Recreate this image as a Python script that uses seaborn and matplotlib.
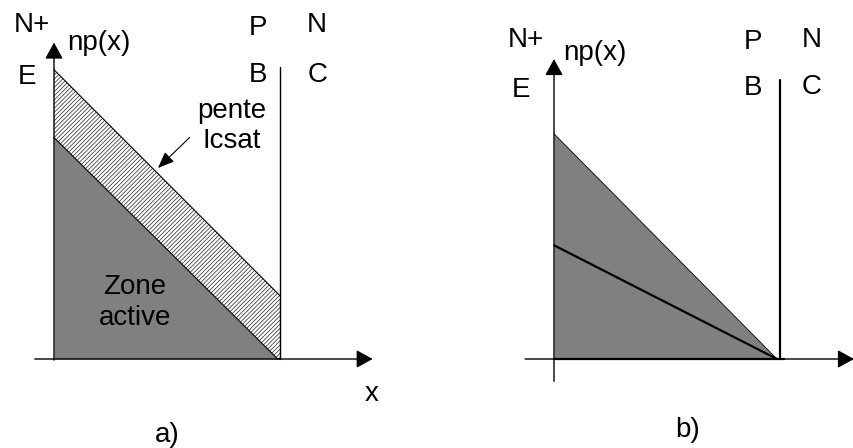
import numpy as np
import pandas as pd
import seaborn as sns
import matplotlib.pyplot as plt

#%% data (x in units of base width, y in same units)

# panel a
xa = [0.0, 0.99, 1.0]
lower_a = [0.98, 0.0, 0.0]      # edge of active zone
upper_a = [1.28, 0.29, 0.28]    # slope Icsat
junction_a = 1.0
junction_top_a = 1.29

# panel b
xb = [0.0, 1.0]
tri_b = [1.01, 0.0]
inner_b = [0.51, 0.0]
junction_b = 1.013
junction_top_b = 1.25

#%% style
sns.set_style("white")
plt.rcParams['font.family'] = ['Liberation Sans', 'DejaVu Sans']
plt.rcParams['text.color'] = 'black'
plt.rcParams['hatch.linewidth'] = 0.5
GRAY = '#808080'
FS = 20

fig = plt.figure(figsize=(8.54, 4.48), dpi=100)
W, H = 854, 448


def make_ax(px0, px1, ox, oy, s):
    # axes covering pixel columns px0..px1, origin at (ox, oy) pixels, s px per unit
    ax = fig.add_axes([px0 / W, 0, (px1 - px0) / W, 1])
    ax.set_xlim((px0 - ox) / s, (px1 - ox) / s)
    ax.set_ylim((oy - H) / s, oy / s)
    ax.axis('off')
    return ax


def arrow(ax, x0, y0, x1, y1, lw=1.0, style='-|>,head_length=1.0,head_width=0.55'):
    ax.annotate('', xy=(x1, y1), xytext=(x0, y0),
                arrowprops=dict(arrowstyle=style, lw=lw, color='black',
                                shrinkA=0, shrinkB=0), annotation_clip=False)


#%% panel a
ax = make_ax(0, 427, 54, 359, 226)
ax.fill_between(xa, 0, lower_a, color=GRAY, lw=0)
ax.fill_between(xa, lower_a, upper_a, facecolor='white', edgecolor='#222222',
                hatch='////////', lw=0)
df_a = pd.DataFrame({'x': xa, 'lower': lower_a, 'upper': upper_a})
sns.lineplot(data=df_a, x='x', y='lower', ax=ax, color='black', lw=0.8)
sns.lineplot(data=df_a, x='x', y='upper', ax=ax, color='black', lw=0.8)
ax.plot([junction_a, junction_a], [0, junction_top_a], color='black', lw=1.0)
arrow(ax, 0, -0.005, 0, 1.40)
arrow(ax, -0.085, 0, 1.41, 0)
arrow(ax, 0.60, 0.98, 0.46, 0.845, lw=0.8, style='-|>,head_length=1.0,head_width=0.4')

txt = dict(fontsize=FS, ha='center', va='center', color='black')
ax.text(-0.10, 1.478, 'N+', **txt)
ax.text(0.20, 1.398, 'np(x)', **txt)
ax.text(-0.12, 1.248, 'E', **txt)
ax.text(0.903, 1.465, 'P', **txt)
ax.text(1.164, 1.478, 'N', **txt)
ax.text(0.903, 1.257, 'B', **txt)
ax.text(1.168, 1.257, 'C', **txt)
ax.text(0.788, 1.097, 'pente', **txt)
ax.text(0.788, 0.965, 'Icsat', **txt)
ax.text(0.358, 0.319, 'Zone', **txt)
ax.text(0.358, 0.181, 'active', **txt)
ax.text(1.407, -0.155, 'x', **txt)
ax.text(0.50, -0.336, 'a)', **txt)

#%% panel b
bx = make_ax(427, 854, 554, 359, 223)
bx.fill_between(xb, 0, tri_b, color=GRAY, lw=0)
df_b = pd.DataFrame({'x': xb, 'tri': tri_b, 'inner': inner_b})
sns.lineplot(data=df_b, x='x', y='tri', ax=bx, color='black', lw=0.6)
sns.lineplot(data=df_b, x='x', y='inner', ax=bx, color='black', lw=1.6)
bx.plot([junction_b, junction_b], [0, junction_top_b], color='black', lw=1.6)
bx.plot([0, 1.03], [0, 0], color='black', lw=1.6)
arrow(bx, 0, -0.10, 0, 1.345)
arrow(bx, -0.13, 0, 1.345, 0)

bx.text(-0.126, 1.430, 'N+', **txt)
bx.text(0.184, 1.372, 'np(x)', **txt)
bx.text(-0.148, 1.206, 'E', **txt)
bx.text(0.892, 1.422, 'P', **txt)
bx.text(1.157, 1.430, 'N', **txt)
bx.text(0.892, 1.215, 'B', **txt)
bx.text(1.157, 1.220, 'C', **txt)
bx.text(0.601, -0.318, 'b)', **txt)

fig.savefig('out.png', dpi=100)
